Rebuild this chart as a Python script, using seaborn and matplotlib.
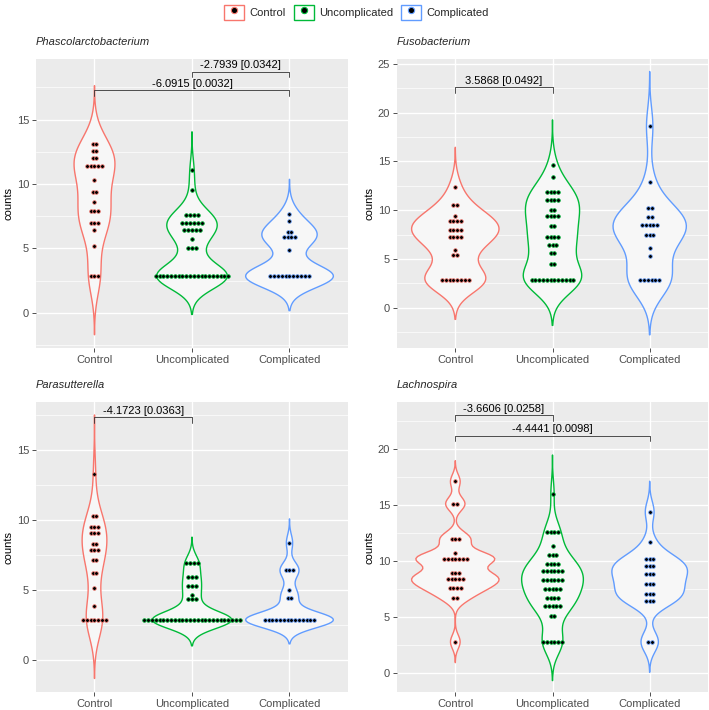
import numpy as np
import pandas as pd
import matplotlib
matplotlib.use("Agg")
import matplotlib.pyplot as plt
import seaborn as sns
from matplotlib.patches import Patch
from matplotlib.lines import Line2D
from matplotlib.ticker import MultipleLocator

groups = ["Control", "Uncomplicated", "Complicated"]
palette = ["#F8766D", "#00BA38", "#619CFF"]

phas_ctrl_vals = [13.1, 12.6, 12.0, 11.4, 10.3, 9.4, 8.6, 7.9, 7.0, 6.4, 5.2, 2.84]
phas_ctrl_n = [2, 2, 2, 5, 1, 2, 1, 3, 3, 1, 1, 3]
phas_unc_vals = [11.1, 9.5, 7.6, 7.0, 6.4, 5.7, 5.0, 2.84]
phas_unc_n = [1, 1, 4, 6, 5, 1, 3, 20]
phas_comp_vals = [7.7, 7.1, 6.3, 5.9, 4.9, 2.84]
phas_comp_n = [1, 1, 2, 4, 1, 11]

fuso_ctrl_vals = [12.4, 10.5, 9.4, 8.9, 8.0, 7.2, 5.95, 5.4, 2.84]
fuso_ctrl_n = [1, 2, 1, 4, 4, 4, 1, 2, 8]
fuso_unc_vals = [14.6, 13.4, 11.9, 11.05, 10.0, 9.4, 8.4, 7.25, 6.4, 5.6, 4.5, 2.84]
fuso_unc_n = [1, 1, 4, 4, 2, 4, 2, 4, 3, 2, 2, 12]
fuso_comp_vals = [18.6, 12.9, 10.2, 9.3, 8.45, 7.45, 6.1, 5.3, 2.84]
fuso_comp_n = [1, 1, 2, 2, 5, 3, 1, 1, 6]

para_ctrl_vals = [13.3, 10.3, 9.45, 9.05, 8.3, 7.85, 7.1, 6.2, 5.1, 3.8, 2.84]
para_ctrl_n = [1, 2, 3, 3, 2, 3, 2, 2, 1, 1, 7]
para_unc_vals = [6.9, 5.9, 5.25, 4.6, 4.3, 2.84]
para_unc_n = [4, 3, 3, 1, 3, 26]
para_comp_vals = [8.35, 6.4, 4.95, 4.4, 2.84]
para_comp_n = [1, 3, 1, 2, 14]

lach_ctrl_vals = [17.1, 15.1, 12.0, 10.7, 10.2, 8.9, 8.4, 7.6, 6.7, 2.8]
lach_ctrl_n = [1, 2, 3, 1, 7, 3, 5, 4, 2, 1]
lach_unc_vals = [16.0, 12.6, 11.35, 10.55, 9.7, 9.1, 8.3, 7.5, 6.7, 6.0, 5.1, 2.8]
lach_unc_n = [1, 4, 1, 3, 4, 6, 6, 5, 4, 5, 2, 6]
lach_comp_vals = [14.4, 11.7, 10.2, 9.55, 8.85, 8.0, 7.05, 6.45, 2.8]
lach_comp_n = [1, 1, 3, 3, 3, 3, 3, 3, 2]

# comparison brackets: (group a, group b, height, label)
phas_brackets = [(0, 2, 17.27, "-6.0915 [0.0032]"), (1, 2, 18.72, "-2.7939 [0.0342]")]
fuso_brackets = [(0, 1, 22.6, "3.5868 [0.0492]")]
para_brackets = [(0, 1, 17.31, "-4.1723 [0.0363]")]
lach_brackets = [(0, 1, 23.02, "-3.6606 [0.0258]"), (0, 2, 21.18, "-4.4441 [0.0098]")]


def make_df(levels):
    rows = []
    for i, (vals, ns) in enumerate(levels):
        for v, n in zip(vals, ns):
            # centred row of dots like geom_dotplot(stackdir="center")
            for k in range(n):
                rows.append((groups[i], v, i + (k - (n - 1) / 2) * 0.039))
    return pd.DataFrame(rows, columns=["group", "counts", "xpos"])


def nrd0(kde):
    # R's default bandwidth (bw.nrd0) as a factor of the sd
    x = kde.dataset.ravel()
    sd = x.std(ddof=1)
    q75, q25 = np.percentile(x, [75, 25])
    lo = min(sd, (q75 - q25) / 1.34)
    if lo <= 0:
        lo = sd
    return 0.9 * lo * len(x) ** -0.2 / sd


sns.set_theme(style="darkgrid", rc={"axes.facecolor": "#EBEBEB", "grid.color": "white"})
plt.rcParams["font.family"] = ["Liberation Sans", "DejaVu Sans"]

fig = plt.figure(figsize=(7.09, 7.10), dpi=100)

panels = [
    ("Phascolarctobacterium", make_df([(phas_ctrl_vals, phas_ctrl_n), (phas_unc_vals, phas_unc_n), (phas_comp_vals, phas_comp_n)]),
     (-2.72, 19.74), phas_brackets, [36, 58.5, 348, 348]),
    ("Fusobacterium", make_df([(fuso_ctrl_vals, fuso_ctrl_n), (fuso_unc_vals, fuso_unc_n), (fuso_comp_vals, fuso_comp_n)]),
     (-4.15, 25.57), fuso_brackets, [397, 58.5, 708, 348]),
    ("Parasutterella", make_df([(para_ctrl_vals, para_ctrl_n), (para_unc_vals, para_unc_n), (para_comp_vals, para_comp_n)]),
     (-2.31, 18.41), para_brackets, [36, 402, 348, 692]),
    ("Lachnospira", make_df([(lach_ctrl_vals, lach_ctrl_n), (lach_unc_vals, lach_unc_n), (lach_comp_vals, lach_comp_n)]),
     (-1.67, 24.18), lach_brackets, [397, 402, 708, 692]),
]

W, H = 709, 710
for title, df, ylim, brackets, box in panels:
    x0, y0, x1, y1 = box
    ax = fig.add_axes([x0 / W, 1 - y1 / H, (x1 - x0) / W, (y1 - y0) / H])

    kde_kws = dict(cut=3, bw_method=nrd0, width=0.9, density_norm="area",
                   common_norm=True, inner=None)
    sns.violinplot(data=df, x="group", y="counts", order=groups, color="#F7F7F7",
                   linewidth=0, ax=ax, **kde_kws)
    sns.violinplot(data=df, x="group", y="counts", order=groups, hue="group",
                   hue_order=groups, palette=palette, fill=False, linewidth=1.0,
                   legend=False, ax=ax, **kde_kws)

    for i, g in enumerate(groups):
        sub = df[df["group"] == g]
        ax.scatter(sub["xpos"].values, sub["counts"].values, s=7, color="black",
                   edgecolors=palette[i], linewidths=0.5, zorder=5)

    tip = 0.02 * (ylim[1] - ylim[0])
    for a, b, h, lab in brackets:
        ax.plot([a, a, b, b], [h - tip, h, h, h - tip], color="#333333", lw=0.6, zorder=6)
        ax.annotate(lab, xy=((a + b) / 2, h), xytext=(0, 1), textcoords="offset points",
                    ha="center", va="bottom", fontsize=8, color="black")

    ax.set_xlim(-0.6, 2.6)
    ax.set_ylim(*ylim)
    ax.yaxis.set_major_locator(MultipleLocator(5))
    ax.yaxis.set_minor_locator(MultipleLocator(2.5))
    ax.grid(which="major", color="white", lw=1.0)
    ax.grid(which="minor", axis="y", color="white", lw=0.5)
    ax.grid(which="minor", axis="x", visible=False)
    ax.set_axisbelow(True)
    for s in ax.spines.values():
        s.set_visible(False)
    ax.tick_params(which="major", length=2.75, width=0.6, color="#333333",
                   labelsize=8, labelcolor="#4D4D4D", pad=2.2, bottom=True, left=True)
    ax.tick_params(which="minor", length=0)
    ax.set_xlabel("")
    ax.set_ylabel("counts", fontsize=8, color="black", labelpad=2)
    ax.annotate(title, xy=(0, 1), xycoords="axes fraction", xytext=(0, 12),
                textcoords="offset points", ha="left", va="center",
                fontsize=8, fontstyle="italic")

handles = [(Patch(facecolor="white", edgecolor=c, lw=1.0),
            Line2D([], [], ls="", marker="o", markersize=4.5, markerfacecolor="black",
                   markeredgecolor=c, markeredgewidth=0.8))
           for c in palette]
fig.legend(handles, groups, loc="center", bbox_to_anchor=(0.503, 1 - 12 / H), ncol=3,
           frameon=False, fontsize=8, handlelength=1.8, handleheight=1.7,
           handletextpad=0.45, columnspacing=0.75)

fig.savefig("out.png", dpi=100)
